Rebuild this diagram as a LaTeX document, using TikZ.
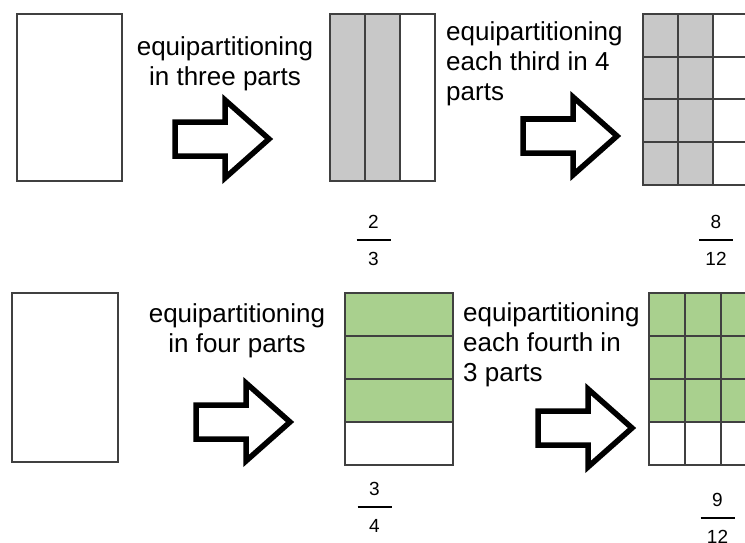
\documentclass[tikz,border=0pt]{standalone}
\usepackage{fontspec}
\setmainfont{Liberation Sans}
\usetikzlibrary{positioning}
\definecolor{greyfill}{RGB}{200,200,200}
\definecolor{leaf}{RGB}{169,208,142}
\newcommand{\fracstack}[2]{{\setlength{\arrayrulewidth}{1.2pt}%
  \begin{tabular}{@{}c@{}}\makebox[34pt]{#1}\\\hline\makebox[34pt]{#2}\end{tabular}}}
\tikzset{pics/fatarrow/.style={code={%
  \draw[fat] (0,-17) -- (50,-17) -- (50,-39) -- (94,0) -- (50,39)
             -- (50,17) -- (0,17) -- cycle;}}}

\begin{document}
\begin{tikzpicture}[x=1pt,y=-1pt,
  cell/.style={draw=black!75,line width=1.3pt},
  notetext/.style={font=\fontsize{26}{30}\selectfont,inner sep=0pt},
  frac/.style={font=\fontsize{19}{35}\selectfont,inner sep=0pt},
  fat/.style={draw=black,line width=5.5pt,line join=miter,fill=white}]
%
  \clip (0,0) rectangle (745,543);
  \useasboundingbox (0,0) rectangle (745,543);
%
% --- thirds, then twelfths ---
  \draw[cell] (17,14) rectangle (122,181);
%
  \node[notetext,align=center,anchor=base] (tl) at (225,85)
       {equipartitioning\\in three parts};
  \pic at (175,139) {fatarrow};
%
  \fill[greyfill] (330,14) rectangle (400,181);
  \draw[cell] (330,14) rectangle (435,181);
  \foreach \x in {365,400} \draw[cell] (\x,14) -- (\x,181);
  \node[frac] (tm) at (373.5,240) {\fracstack{2}{3}};
%
  \node[notetext,align=left,anchor=base west] (tr) at (446,101)
       {equipartitioning\\each third in 4\\parts};
  \pic at (523,136) {fatarrow};
%
  \fill[greyfill] (643,14) rectangle (713,185);
  \draw[cell] (643,14) rectangle (748,185);
  \foreach \x in {678,713} \draw[cell] (\x,14) -- (\x,185);
  \foreach \y in {57,99,142} \draw[cell] (643,\y) -- (748,\y);
  \node[frac] (te) at (716,240) {\fracstack{8}{12}};
%
% --- fourths, then twelfths ---
  \draw[cell] (12,293) rectangle (118,462);
%
  \node[notetext,align=center,anchor=base] (bl) at (237,352)
       {equipartitioning\\in four parts};
  \pic at (196,422) {fatarrow};
%
  \fill[leaf] (345,293) rectangle (453,422);
  \draw[cell] (345,293) rectangle (453,465);
  \foreach \y in {336,379,422} \draw[cell] (345,\y) -- (453,\y);
  \node[frac] (bm) at (374.5,507) {\fracstack{3}{4}};
%
  \node[notetext,align=left,anchor=base west] (br) at (463,381)
       {equipartitioning\\each fourth in\\3 parts};
  \pic at (538,428) {fatarrow};
%
  \fill[leaf] (649,293) rectangle (757,422);
  \draw[cell] (649,293) rectangle (757,465);
  \foreach \x in {685,721} \draw[cell] (\x,293) -- (\x,465);
  \foreach \y in {336,379,422} \draw[cell] (649,\y) -- (757,\y);
  \node[frac] (be) at (717.5,518) {\fracstack{9}{12}};
%
\end{tikzpicture}
\end{document}
